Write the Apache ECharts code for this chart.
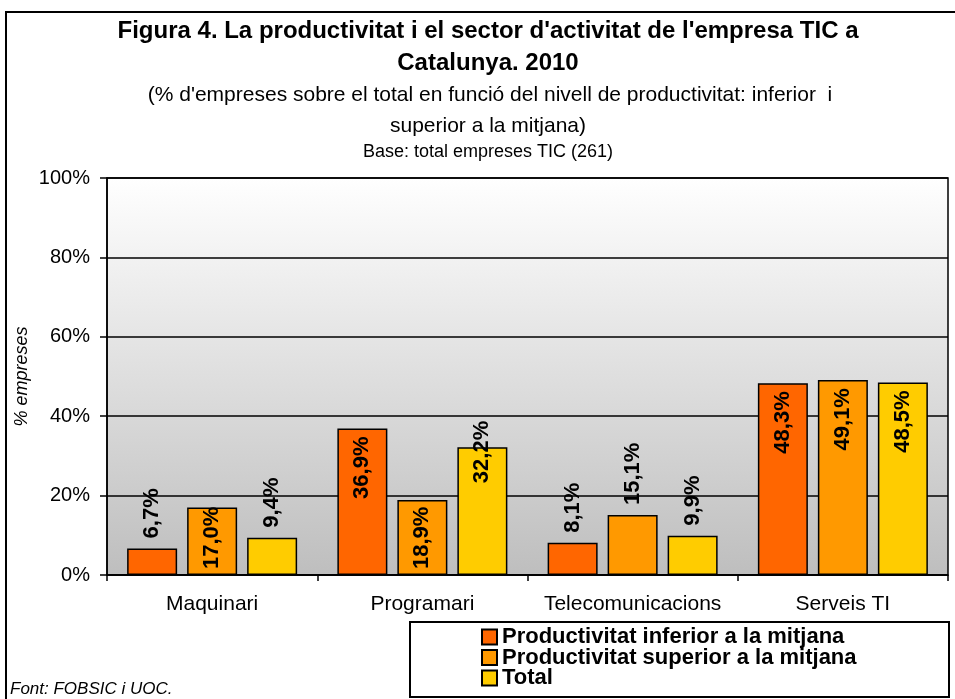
<!DOCTYPE html>
<html>
<head>
<meta charset="utf-8">
<script src="https://cdn.jsdelivr.net/npm/echarts@6/dist/echarts.min.js"></script>
<style>
  html, body { margin: 0; padding: 0; background: #fff; }
  #container { width: 955px; height: 699px; }
</style>
</head>
<body>
<div id="container"></div>
<script>
var categories = ['Maquinari', 'Programari', 'Telecomunicacions', 'Serveis TI'];
var seriesNames = [
  'Productivitat inferior a la mitjana',
  'Productivitat superior a la mitjana',
  'Total'
];
var inferior = [6.7, 36.9, 8.1, 48.3];
var superior = [17.0, 18.9, 15.1, 49.1];
var total = [9.4, 32.2, 9.9, 48.5];
var colors = ['#FF6600', '#FF9900', '#FFCC00'];

var FONT = '"Liberation Sans", Arial, sans-serif';

function fmt(v) {
  return v.toFixed(1).replace('.', ',') + '%';
}

// where Excel put the label: inside the top for tall bars, above for short ones
function labelFor(v) {
  if (v > 35) {
    return { position: 'insideTop', align: 'right', distance: 8 };
  }
  if (v > 25) {
    // straddles the top edge of the bar
    return { position: 'top', align: 'left', distance: -36 };
  }
  if (v > 16) {
    return { position: 'insideBottom', align: 'left', distance: 6 };
  }
  return { position: 'top', align: 'left', distance: 10 };
}

function makeSeries(name, values, color) {
  return {
    name: name,
    type: 'bar',
    barWidth: 50,
    barGap: '20%',
    itemStyle: { color: color, borderColor: '#000', borderWidth: 1.5 },
    label: {
      show: true,
      rotate: 90,
      verticalAlign: 'middle',
      fontFamily: FONT,
      fontSize: 22,
      fontWeight: 'bold',
      color: '#000',
      formatter: function (p) { return fmt(p.value); }
    },
    data: values.map(function (v) {
      return { value: v, label: labelFor(v) };
    })
  };
}

var dom = document.getElementById('container');
var myChart = echarts.init(dom);

var option = {
  animation: false,
  backgroundColor: '#fff',
  textStyle: { fontFamily: FONT },
  grid: {
    left: 107,
    right: 7,
    top: 178,
    bottom: 124,
    outerBoundsMode: 'none',
    containLabel: false,
    show: true,
    borderColor: '#000',
    borderWidth: 1.5,
    backgroundColor: {
      type: 'linear', x: 0, y: 0, x2: 0, y2: 1,
      colorStops: [
        { offset: 0, color: '#FFFFFF' },
        { offset: 1, color: '#BEBEBE' }
      ]
    }
  },
  legend: {
    orient: 'vertical',
    left: 481,
    top: 626,
    height: 200,
    padding: 0,
    itemWidth: 15,
    itemHeight: 15,
    itemGap: -1.5,
    icon: 'rect',
    selectedMode: false,
    textStyle: { fontFamily: FONT, fontSize: 22, fontWeight: 'bold', color: '#000' },
    data: seriesNames
  },
  xAxis: {
    type: 'category',
    data: categories,
    axisLine: { lineStyle: { color: '#000', width: 1.5 } },
    axisTick: { show: true, length: 6, interval: 0, lineStyle: { color: '#000', width: 1.5 } },
    axisLabel: { margin: 19, interval: 0, fontSize: 21, color: '#000', fontFamily: FONT }
  },
  yAxis: {
    type: 'value',
    min: 0,
    max: 100,
    interval: 20,
    name: '% empreses',
    nameLocation: 'middle',
    nameGap: 76,
    nameMoveOverlap: false,
    nameTextStyle: { fontStyle: 'italic', fontSize: 18, color: '#000', fontFamily: FONT },
    axisLine: { show: true, lineStyle: { color: '#000', width: 1.5 } },
    axisTick: { show: true, length: 7, lineStyle: { color: '#000', width: 1.5 } },
    axisLabel: { margin: 17, fontSize: 20, color: '#000', fontFamily: FONT, formatter: '{value}%' },
    splitLine: { lineStyle: { color: '#000', width: 1.5 } }
  },
  graphic: [
    {
      type: 'rect', silent: true, z: -1,
      shape: { x: 6, y: 12, width: 1000, height: 1000 },
      style: { fill: 'none', stroke: '#000', lineWidth: 2 }
    },
    {
      type: 'text', x: 488, y: 31,
      style: { text: "Figura 4. La productivitat i el sector d'activitat de l'empresa TIC a",
        font: 'bold 24px ' + FONT, fill: '#000', align: 'center', verticalAlign: 'middle' }
    },
    {
      type: 'text', x: 488, y: 63,
      style: { text: 'Catalunya. 2010',
        font: 'bold 24px ' + FONT, fill: '#000', align: 'center', verticalAlign: 'middle' }
    },
    {
      type: 'text', x: 490, y: 95,
      style: { text: "(% d'empreses sobre el total en funció del nivell de productivitat: inferior  i",
        font: '21px ' + FONT, fill: '#000', align: 'center', verticalAlign: 'middle' }
    },
    {
      type: 'text', x: 488, y: 126,
      style: { text: 'superior a la mitjana)',
        font: '21px ' + FONT, fill: '#000', align: 'center', verticalAlign: 'middle' }
    },
    {
      type: 'text', x: 488, y: 152,
      style: { text: 'Base: total empreses TIC (261)',
        font: '18px ' + FONT, fill: '#000', align: 'center', verticalAlign: 'middle' }
    },
    {
      type: 'rect', silent: true,
      shape: { x: 410, y: 622, width: 539, height: 75 },
      style: { fill: '#fff', stroke: '#000', lineWidth: 2 }
    },
    {
      type: 'text', x: 10, y: 689,
      style: { text: 'Font: FOBSIC i UOC.',
        font: 'italic 17px ' + FONT, fill: '#000', align: 'left', verticalAlign: 'middle' }
    }
  ],
  series: [
    makeSeries(seriesNames[0], inferior, colors[0]),
    makeSeries(seriesNames[1], superior, colors[1]),
    makeSeries(seriesNames[2], total, colors[2])
  ]
};

myChart.setOption(option);
window.onresize = function () {
  myChart.resize();
};
</script>
</body>
</html>
